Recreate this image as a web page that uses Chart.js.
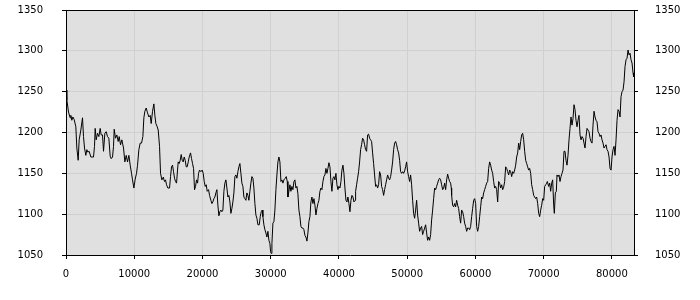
<!DOCTYPE html>
<html>
<head>
<meta charset="utf-8">
<script src="https://cdn.jsdelivr.net/npm/chart.js@4/dist/chart.umd.min.js"></script>
<style>
  html, body { margin: 0; padding: 0; background: #fff; }
  #wrap { width: 700px; height: 300px; }
</style>
</head>
<body>
<div id="wrap"><canvas id="c" width="700" height="300"></canvas></div>
<script>
// series, [position, value], one block per stretch of the x axis
const run0to14k = [[0,1252],[122,1240],[367,1225],[611,1218],[709,1221],[855,1215],[1002,1219],[1197,1216],[1442,1207],[1588,1181],
  [1784,1166],[1930,1191],[2175,1203],[2419,1218],[2566,1195],[2712,1181],[2908,1172],[3054,1179],[3201,1176],[3396,1177],
  [3641,1170],[4032,1170],[4178,1183],[4276,1205],[4423,1191],[4618,1199],[4814,1195],[5009,1205],[5156,1197],[5351,1197],
  [5498,1177],[5693,1199],[5889,1201],[6084,1195],[6280,1193],[6475,1171],[6622,1168],[6817,1170],[6964,1183],[7062,1204],
  [7257,1193],[7453,1197],[7648,1189],[7795,1195],[7990,1185],[8186,1191],[8430,1181],[8626,1164],[8821,1172],[9017,1164],
  [9212,1172],[9408,1160],[9603,1150],[9750,1142],[9945,1132],[10141,1143],[10336,1150],[10483,1160],[10678,1179],[10874,1187],
  [11069,1187],[11265,1195],[11411,1218],[11557,1226],[11753,1230],[11948,1224],[12144,1219],[12340,1221],[12486,1211],[12682,1226],
  [12877,1235],[13024,1221],[13170,1211],[13366,1207],[13513,1203],[13708,1183],[13855,1150],[14050,1142],[14245,1145]];

const run14kto28k = [[14293,1144],[14440,1140],[14587,1142],[14733,1136],[14929,1132],[15173,1132],[15320,1146],[15466,1158],[15613,1160],[15760,1152],
  [15906,1144],[16053,1140],[16199,1138],[16346,1154],[16444,1164],[16590,1162],[16737,1166],[16884,1173],[17030,1166],[17177,1164],
  [17323,1170],[17470,1166],[17617,1158],[17763,1158],[17910,1164],[18056,1170],[18252,1175],[18399,1168],[18545,1162],[18692,1156],
  [18838,1130],[18985,1134],[19132,1142],[19278,1138],[19425,1150],[19571,1154],[19767,1152],[19962,1154],[20109,1150],[20256,1140],
  [20402,1134],[20549,1136],[20695,1128],[20891,1130],[21038,1123],[21233,1117],[21380,1113],[21526,1115],[21673,1119],[21819,1121],
  [21966,1126],[22113,1130],[22259,1111],[22406,1098],[22552,1103],[22699,1105],[22846,1103],[22992,1105],[23139,1128],[23286,1138],
  [23432,1142],[23579,1132],[23725,1121],[23872,1123],[24019,1115],[24165,1101],[24312,1107],[24458,1115],[24605,1126],[24752,1146],
  [24898,1148],[25045,1144],[25191,1152],[25338,1158],[25485,1162],[25631,1150],[25778,1138],[25925,1134],[26071,1121],[26218,1119],
  [26364,1117],[26511,1126],[26658,1123],[26804,1117],[26951,1128],[27097,1138],[27244,1146],[27391,1144],[27537,1132],[27684,1113],
  [27830,1099],[27977,1095],[28124,1087],[28319,1087]];

const run28kto42k = [[28465,1097],[28612,1103],[28758,1105],[28856,1097],[29003,1087],[29149,1081],[29296,1077],[29443,1072],[29589,1079],[29736,1068],
  [29882,1064],[29980,1054],[30078,1052],[30176,1064],[30322,1089],[30469,1091],[30615,1105],[30762,1130],[30909,1148],[31055,1164],
  [31202,1170],[31349,1164],[31495,1140],[31642,1142],[31788,1138],[31935,1142],[32130,1144],[32277,1146],[32424,1140],[32521,1121],
  [32668,1128],[32815,1136],[32961,1128],[33108,1134],[33254,1130],[33401,1140],[33548,1142],[33694,1132],[33841,1134],[33987,1125],
  [34134,1105],[34281,1097],[34427,1085],[34574,1083],[34721,1083],[34867,1081],[35014,1074],[35160,1072],[35307,1067],[35454,1077],
  [35600,1091],[35747,1097],[35893,1115],[36040,1121],[36187,1113],[36333,1119],[36480,1111],[36626,1099],[36773,1107],[36920,1113],
  [37066,1117],[37213,1128],[37359,1132],[37506,1130],[37653,1140],[37799,1146],[37946,1148],[38092,1156],[38239,1150],[38386,1156],
  [38532,1163],[38679,1158],[38826,1140],[38972,1128],[39119,1144],[39265,1146],[39412,1142],[39559,1150],[39705,1136],[39852,1130],
  [39998,1134],[40145,1132],[40292,1140],[40438,1154],[40585,1160],[40731,1150],[40878,1132],[41025,1117],[41171,1115],[41318,1121],
  [41464,1113],[41611,1103],[41758,1117],[41904,1123],[42051,1121],[42198,1115],[42393,1117]];

const run42kto56k = [[42440,1128],[42587,1136],[42734,1144],[42880,1152],[43027,1164],[43173,1179],[43320,1185],[43467,1193],[43613,1191],[43760,1185],
  [43907,1179],[44053,1177],[44200,1197],[44346,1198],[44493,1193],[44640,1191],[44786,1189],[44933,1175],[45079,1162],[45226,1148],
  [45373,1134],[45519,1136],[45666,1132],[45812,1136],[45959,1152],[46106,1148],[46252,1134],[46399,1130],[46546,1123],[46692,1130],
  [46839,1136],[46985,1142],[47132,1148],[47279,1144],[47425,1142],[47572,1146],[47718,1154],[47865,1164],[48012,1179],[48158,1187],
  [48305,1189],[48451,1185],[48598,1179],[48745,1175],[48891,1166],[49038,1152],[49185,1150],[49331,1152],[49478,1150],[49624,1153],
  [49771,1158],[49918,1164],[50064,1152],[50211,1146],[50357,1140],[50504,1148],[50651,1136],[50797,1117],[50944,1101],[51090,1095],
  [51237,1105],[51384,1117],[51530,1099],[51677,1089],[51823,1079],[51970,1083],[52117,1085],[52263,1075],[52410,1079],[52557,1083],
  [52703,1087],[52850,1077],[52996,1068],[53143,1072],[53290,1068],[53436,1075],[53583,1093],[53730,1105],[53876,1119],[54023,1132],
  [54169,1130],[54316,1134],[54463,1138],[54609,1142],[54756,1144],[54902,1142],[55049,1136],[55196,1130],[55342,1132],[55489,1138],
  [55635,1130],[55782,1142],[55929,1149],[56075,1144],[56222,1140],[56368,1138],[56466,1132]];

const run56kto70k = [[56514,1123],[56661,1111],[56808,1109],[56954,1113],[57101,1109],[57247,1117],[57394,1111],[57541,1107],[57687,1097],[57834,1089],
  [57981,1105],[58127,1103],[58274,1097],[58420,1089],[58567,1085],[58714,1079],[58860,1083],[59007,1083],[59153,1081],[59300,1085],
  [59447,1097],[59593,1107],[59740,1117],[59886,1119],[60033,1113],[60180,1085],[60326,1079],[60473,1085],[60620,1097],[60766,1109],
  [60913,1121],[61059,1119],[61206,1126],[61353,1130],[61499,1134],[61646,1138],[61792,1140],[61939,1156],[62086,1164],[62232,1160],
  [62379,1154],[62525,1150],[62672,1140],[62819,1132],[62965,1134],[63112,1130],[63259,1115],[63405,1140],[63552,1138],[63698,1132],
  [63845,1136],[63992,1130],[64138,1133],[64285,1140],[64431,1158],[64578,1156],[64725,1152],[64871,1148],[65018,1154],[65164,1152],
  [65311,1146],[65458,1152],[65604,1150],[65751,1154],[65897,1160],[66044,1170],[66191,1175],[66337,1187],[66484,1179],[66631,1189],
  [66777,1197],[66924,1199],[67070,1191],[67217,1177],[67364,1166],[67510,1162],[67657,1158],[67803,1154],[67950,1156],[68097,1150],
  [68243,1136],[68390,1130],[68537,1123],[68683,1121],[68830,1119],[68976,1121],[69123,1113],[69270,1101],[69416,1097],[69563,1105],
  [69709,1111],[69856,1119],[70003,1117],[70149,1134],[70296,1136],[70442,1138],[70540,1140]];

const run70kto83k = [[70588,1140],[70735,1134],[70882,1138],[71028,1128],[71175,1138],[71321,1142],[71468,1111],[71566,1101],[71712,1126],[71859,1128],
  [71957,1148],[72103,1146],[72250,1148],[72396,1140],[72543,1146],[72690,1150],[72836,1154],[72983,1177],[73129,1177],[73276,1166],
  [73423,1160],[73569,1172],[73716,1191],[73863,1205],[74009,1219],[74156,1209],[74302,1217],[74449,1234],[74596,1228],[74742,1215],
  [74889,1207],[75036,1215],[75182,1221],[75329,1197],[75475,1191],[75622,1195],[75769,1193],[75915,1187],[76062,1181],[76208,1195],
  [76355,1205],[76502,1203],[76648,1201],[76795,1193],[76942,1189],[77088,1187],[77235,1209],[77381,1226],[77528,1219],[77675,1215],
  [77821,1213],[77968,1201],[78114,1199],[78261,1195],[78408,1197],[78554,1191],[78701,1187],[78847,1181],[78994,1183],[79141,1185],
  [79287,1179],[79434,1177],[79581,1170],[79727,1156],[79874,1154],[80020,1170],[80167,1179],[80314,1183],[80460,1172],[80607,1191],
  [80753,1215],[80900,1228],[81047,1226],[81193,1219],[81340,1244],[81486,1250],[81633,1252],[81780,1262],[81926,1281],[82073,1289],
  [82220,1291],[82366,1301],[82513,1295],[82659,1297],[82806,1289],[82953,1285],[83099,1273],[83197,1268]];

const xTicks = [0, 10000, 20000, 30000, 40000, 50000, 60000, 70000, 80000];
const yTicks = [1050, 1100, 1150, 1200, 1250, 1300, 1350];
const X_MAX = 83240;

const points = [run0to14k, run14kto28k, run28kto42k, run42kto56k, run56kto70k, run70kto83k]
  .flat().map(p => ({x: p[0], y: p[1]}));

const tickFont = {family: 'DejaVu Sans', size: 10};

// grey plot area and the top edge of the frame (the axes draw the other three)
const plotFrame = {
  id: 'plotFrame',
  beforeDraw(chart){
    const {ctx, chartArea: a} = chart;
    ctx.save();
    ctx.fillStyle = '#e0e0e0';
    ctx.fillRect(a.left, a.top, a.right - a.left, a.bottom - a.top);
    ctx.restore();
  },
  afterDraw(chart){
    const {ctx, chartArea: a} = chart;
    ctx.save();
    ctx.strokeStyle = '#000';
    ctx.lineWidth = 1;
    ctx.beginPath();
    ctx.moveTo(a.left, Math.round(a.top) + 0.5);
    ctx.lineTo(a.right, Math.round(a.top) + 0.5);
    ctx.stroke();
    ctx.restore();
  }
};

function yAxis(pos, pad, onArea){
  return {
    type: 'linear', position: pos, min: 1050, max: 1350,
    afterBuildTicks: s => { s.ticks = yTicks.map(v => ({value: v})); },
    afterFit: s => { s.width = 66; s.paddingTop = 0; s.paddingBottom = 0; },
    ticks: {font: tickFont, color: '#000', padding: pad, callback: v => String(v)},
    grid: {drawOnChartArea: onArea, color: '#d0d0d0', tickColor: '#000', tickLength: 4},
    border: {color: '#000', width: 1}
  };
}

new Chart(document.getElementById('c'), {
  type: 'line',
  data: {datasets: [{
    data: points,
    borderColor: '#000', borderWidth: 1, pointRadius: 0, tension: 0, fill: false
  }]},
  options: {
    responsive: false, animation: false,
    layout: {padding: {top: 10, left: 0, right: 0, bottom: 0}},
    plugins: {legend: {display: false}, tooltip: {enabled: false}},
    scales: {
      x: {
        type: 'linear', min: 0, max: X_MAX,
        afterBuildTicks: s => { s.ticks = xTicks.map(v => ({value: v})); },
        afterFit: s => { s.height = 45; s.paddingLeft = 0; s.paddingRight = 0; },
        ticks: {font: tickFont, color: '#000', padding: 9, maxRotation: 0, autoSkip: false, callback: v => String(v)},
        grid: {color: '#d0d0d0', tickColor: '#000', tickLength: 4},
        border: {color: '#000', width: 1}
      },
      y: yAxis('left', 19, true),
      y2: yAxis('right', 17, false)
    }
  },
  plugins: [plotFrame]
});
</script>
</body>
</html>
